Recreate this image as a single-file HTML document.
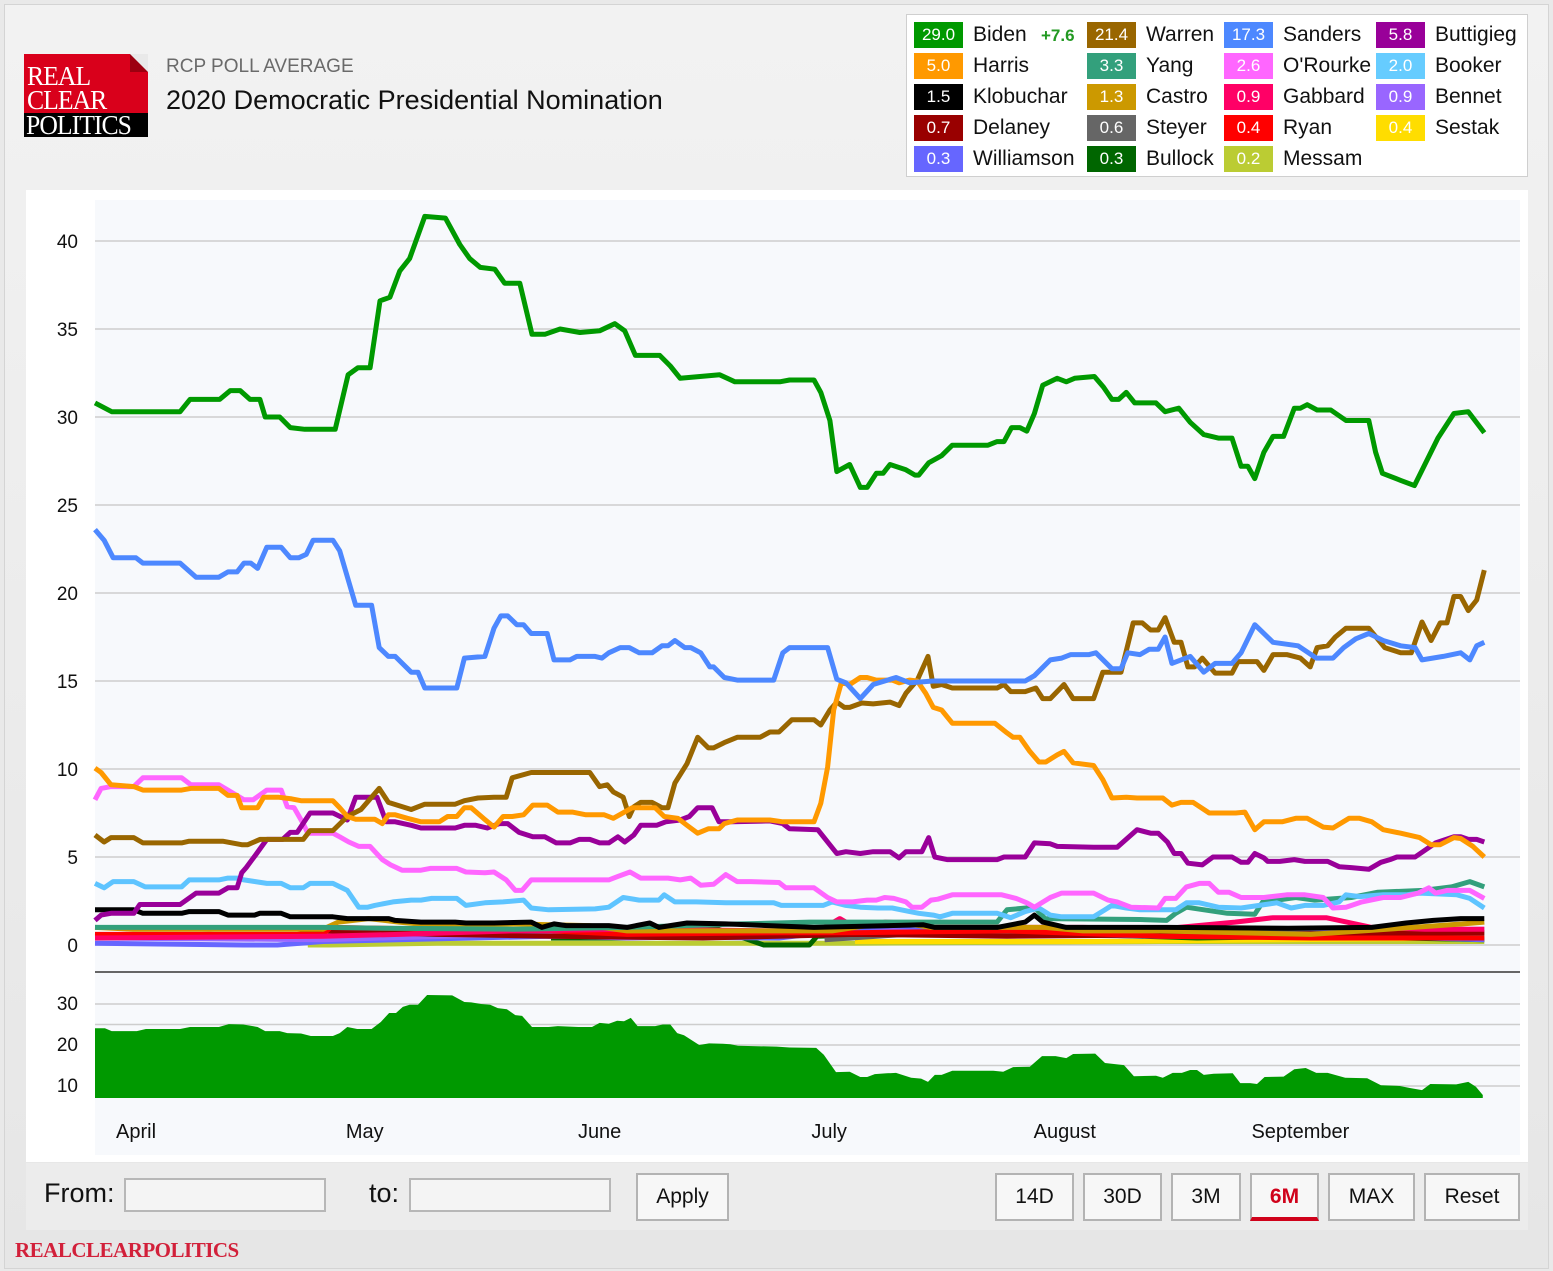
<!DOCTYPE html>
<html><head><meta charset="utf-8">
<style>
html,body{margin:0;padding:0;}
body{width:1553px;height:1271px;position:relative;overflow:hidden;background:#e9e9e9;font-family:"Liberation Sans",sans-serif;}
.abs{position:absolute;}
#frame{left:4px;top:4px;width:1543px;height:1263px;background:linear-gradient(#f2f2f2,#e6e6e6);border:1px solid #d4d4d4;}
#logo-red{left:24px;top:54px;width:124px;height:59px;background:#d9001b;}
#logo-ear{left:130px;top:54px;width:0;height:0;border-top:18px solid #e9e9e9;border-left:18px solid #9c0010;}
#logo-black{left:24px;top:113px;width:124px;height:24px;background:#000;}
.logo-t{color:#fff;font-family:"Liberation Serif",serif;font-size:27px;line-height:24px;letter-spacing:-1px;transform:scaleX(0.95);transform-origin:left;}
#legend{left:906px;top:14px;width:620px;height:161px;background:#fff;border:1px solid #cfcfcf;}
.sw{position:absolute;width:49px;height:26px;color:#fff;font-size:17px;line-height:26px;text-align:center;}
.nm{position:absolute;font-size:21px;color:#111;line-height:26px;}
#panel{left:26px;top:190px;width:1502px;height:972px;background:#fff;}
#controls{left:26px;top:1163px;width:1502px;height:67px;background:#ececec;}
.inp{position:absolute;background:#f4f4f4;border:2px solid #b7b7b7;height:30px;}
.btn{position:absolute;top:1173px;height:44px;border:2px solid #b3b3b3;background:#f7f7f7;font-size:21px;line-height:44px;text-align:center;color:#111;}
</style></head>
<body>
<div class="abs" id="frame"></div>

<div class="abs" id="logo-red"></div>
<div class="abs" id="logo-ear"></div>
<div class="abs" id="logo-black"></div>
<div class="abs logo-t" style="left:27px;top:64px;">REAL</div>
<div class="abs logo-t" style="left:27px;top:88px;">CLEAR</div>
<div class="abs logo-t" style="left:26px;top:113px;">POLITICS</div>

<div class="abs" style="left:166px;top:56px;font-size:19px;color:#6a6a6a;">RCP POLL AVERAGE</div>
<div class="abs" style="left:166px;top:85px;font-size:27px;color:#111;">2020 Democratic Presidential Nomination</div>

<div class="abs" id="legend"></div>

<div class="abs" id="panel"></div>
<svg class="abs" style="left:0;top:0" width="1553" height="1271" id="chart"></svg>

<div class="abs" id="controls"></div>
<div class="abs" style="left:44px;top:1178px;font-size:27px;color:#111;">From:</div>
<div class="inp" style="left:124px;top:1178px;width:198px;"></div>
<div class="abs" style="left:369px;top:1178px;font-size:27px;color:#111;">to:</div>
<div class="inp" style="left:409px;top:1178px;width:198px;"></div>
<div class="btn" style="left:636px;width:89px;">Apply</div>
<div class="btn" style="left:995px;width:75px;">14D</div>
<div class="btn" style="left:1083px;width:75px;">30D</div>
<div class="btn" style="left:1171px;width:66px;">3M</div>
<div class="btn" style="left:1250px;width:65px;color:#d0021b;font-weight:bold;border-bottom:4px solid #d0021b;height:42px;">6M</div>
<div class="btn" style="left:1328px;width:83px;">MAX</div>
<div class="btn" style="left:1424px;width:92px;">Reset</div>
<div class="abs" style="left:15px;top:1238px;font-family:'Liberation Serif',serif;font-weight:bold;font-size:21px;color:#d2203a;letter-spacing:-0.5px;">REALCLEARPOLITICS</div>

<script>
// ---- data (day 0 = Mar 27) ----
const monthNames = ["April","May","June","July","August","September"];
const monthDays = [5.4,35.5,66.4,96.6,127.6,158.6];
const yTicks = [0,5,10,15,20,25,30,35,40];
const navTicks = [10,20,30];
const navGrid = [10,15,20,25,30];

const biden = [[0,30.8],[2.2,30.3],[11.2,30.3],[12.5,31.0],[16.4,31.0],[17.8,31.5],[19.1,31.5],[20.4,31.0],[21.7,31.0],[22.4,30.0],[24.3,30.0],[25.7,29.4],[27.6,29.3],[31.6,29.3],[33.3,32.4],[34.6,32.8],[36.2,32.8],[37.5,36.6],[38.8,36.8],[40.1,38.3],[41.4,39.0],[43.4,41.4],[46.1,41.3],[48,39.8],[49.3,39.0],[50.7,38.5],[52.6,38.4],[53.9,37.6],[55.9,37.6],[57.5,34.7],[59.2,34.7],[61.2,35.0],[63.8,34.8],[66.4,34.9],[68.4,35.3],[69.7,34.9],[71.1,33.5],[74.3,33.5],[75.7,32.9],[77,32.2],[79.6,32.3],[82.2,32.4],[84.2,32.0],[90.1,32.0],[91.4,32.1],[94.6,32.1],[95.5,31.4],[96.7,29.8],[97.6,26.9],[99.3,27.3],[100.7,26.0],[101.6,26.0],[102.8,26.8],[103.7,26.8],[104.6,27.3],[106.7,27.0],[107.9,26.7],[108.4,26.7],[109.7,27.4],[111.4,27.8],[112.8,28.4],[117.5,28.4],[118.7,28.6],[119.6,28.6],[120.6,29.4],[121.7,29.4],[122.6,29.2],[123.6,30.2],[124.7,31.8],[126.6,32.2],[127.8,32.0],[128.9,32.2],[131.5,32.3],[132.7,31.7],[133.8,31.0],[134.7,31.0],[135.7,31.4],[136.8,30.8],[139.6,30.8],[140.8,30.3],[142.6,30.5],[144.1,29.7],[145.9,29.0],[147.8,28.8],[149.6,28.8],[150.8,27.2],[151.7,27.2],[152.6,26.5],[153.8,28.0],[155.0,28.9],[156.4,28.9],[157.8,30.5],[158.6,30.5],[159.5,30.7],[160.8,30.4],[162.6,30.4],[164.6,29.8],[167.6,29.8],[168.5,28.0],[169.4,26.8],[171.8,26.4],[173.6,26.1],[176.7,28.8],[178.8,30.2],[180.7,30.3],[182.8,29.1]];
const sanders = [[0,23.6],[1.2,23.0],[2.4,22.0],[5.4,22.0],[6.3,21.7],[11.2,21.7],[13.3,20.9],[16.3,20.9],[17.5,21.2],[18.7,21.2],[19.6,21.7],[20.5,21.7],[21.4,21.4],[22.6,22.6],[24.5,22.6],[25.7,22.0],[26.8,22.0],[27.8,22.2],[28.7,23.0],[31.3,23.0],[32.2,22.4],[34.3,19.3],[36.4,19.3],[37.4,16.9],[38.6,16.4],[39.5,16.4],[41.6,15.5],[42.5,15.5],[43.4,14.6],[47.6,14.6],[48.6,16.3],[51.3,16.4],[52.5,18.0],[53.4,18.7],[54.3,18.7],[55.5,18.2],[56.4,18.2],[57.4,17.7],[59.5,17.7],[60.4,16.2],[62.5,16.2],[63.4,16.4],[65.8,16.4],[66.7,16.3],[67.6,16.6],[69.1,16.9],[70.3,16.9],[71.6,16.6],[73.3,16.6],[74.6,17.0],[75.4,17.0],[76.3,17.3],[77.6,16.9],[78.4,16.9],[79.7,16.6],[80.9,15.8],[81.4,15.8],[82.8,15.2],[84.5,15.05],[89.3,15.05],[90.5,16.6],[91.4,16.9],[96.4,16.9],[97.6,15.1],[98.8,14.9],[100.7,14.0],[102.4,14.8],[105.4,15.2],[107.2,14.9],[110.3,15.0],[122.4,15.0],[123.6,15.3],[125.7,16.2],[127.2,16.3],[128.4,16.5],[130.8,16.5],[131.7,16.6],[133.8,15.7],[135,15.7],[135.9,16.6],[137.5,16.5],[138.7,16.8],[139.9,16.8],[140.8,17.5],[141.7,16.0],[144.1,16.4],[145.9,15.5],[147.4,16.0],[149.6,16.0],[150.8,16.6],[152.6,18.2],[155,17.2],[158.3,17.0],[160.7,16.3],[162.9,16.3],[164.3,16.9],[165.9,17.4],[167.6,17.7],[169.5,17.3],[171.8,17.0],[173.7,16.9],[174.6,16.2],[177.4,16.4],[179.7,16.6],[180.9,16.2],[181.8,17.0],[182.8,17.2]];
const warren = [[0,6.25],[1.2,5.85],[2.1,6.1],[5.1,6.1],[6.3,5.8],[11.4,5.8],[12.4,5.9],[16.8,5.9],[19.3,5.7],[20.1,5.7],[21.7,6.0],[27.4,6.0],[28.3,6.5],[31.3,6.5],[33.2,7.3],[35,7.7],[37.4,8.9],[38.6,8.1],[41.6,7.7],[43.4,8.0],[47.4,8.0],[48.6,8.2],[50.4,8.35],[52.5,8.4],[54.1,8.4],[54.9,9.5],[57.4,9.8],[65.1,9.8],[66.4,9.0],[67.4,9.1],[68.2,8.7],[69.5,8.4],[70.3,7.3],[70.9,7.85],[71.8,8.1],[73.3,8.1],[74.6,7.8],[75.4,7.8],[76.3,9.2],[77.9,10.3],[79.3,11.8],[80.7,11.2],[81.4,11.2],[82.8,11.5],[84.5,11.8],[87.5,11.8],[88.8,12.1],[90,12.1],[91.7,12.8],[94.6,12.8],[95.5,12.5],[96.7,13.35],[97.6,13.8],[98.6,13.5],[99.3,13.5],[100.9,13.75],[102.4,13.7],[104.6,13.8],[105.8,13.6],[106.7,14.3],[108.2,15.05],[109.6,16.4],[110.3,14.7],[111.4,14.8],[112.8,14.6],[118.7,14.6],[119.6,14.8],[120.5,14.4],[122.4,14.4],[123.8,14.6],[124.7,14.0],[125.7,14.0],[127.5,14.8],[128.7,14.0],[131.4,14.0],[132.6,15.5],[135,15.5],[136.6,18.3],[137.8,18.3],[138.9,17.9],[139.9,17.9],[140.8,18.6],[142,17.2],[142.9,17.2],[143.8,15.8],[144.7,15.8],[145.7,16.3],[147.4,15.45],[149.6,15.45],[150.4,16.1],[152.9,16.1],[153.8,15.6],[155,16.5],[156.8,16.5],[158.6,16.3],[159.9,15.8],[160.8,16.9],[162.2,17.0],[163.2,17.5],[164.6,18.0],[167.6,18.0],[169.7,16.9],[171.8,16.6],[173.2,16.6],[174.6,18.35],[175.8,17.3],[177,18.3],[177.9,18.3],[178.8,19.8],[179.7,19.8],[180.7,19.0],[181.8,19.6],[182.8,21.3]];
const harris = [[0,10.05],[0.8,9.8],[2.1,9.1],[5.1,9.0],[6.3,8.8],[11.4,8.8],[12.6,8.9],[16.3,8.9],[17.5,8.5],[18.7,8.5],[19.3,7.8],[21.4,7.8],[22.2,8.4],[24.1,8.4],[25.9,8.3],[27.1,8.2],[31.3,8.2],[32.2,7.8],[33.2,7.3],[34.3,7.15],[36.8,7.15],[37.8,6.9],[38.6,7.4],[39.5,7.4],[41.1,7.2],[42.9,7.0],[45.3,7.0],[46.4,7.3],[47.6,7.3],[48.6,7.8],[49.5,7.8],[51.1,7.2],[52.5,6.7],[53.7,7.3],[54.9,7.3],[56.4,7.4],[57.6,7.95],[59.5,7.95],[60.9,7.55],[62.8,7.55],[64.6,7.4],[67,7.4],[68.2,7.2],[70.7,7.8],[73.7,7.8],[74.9,7.3],[76.7,7.2],[77.9,6.8],[79.3,6.35],[80.7,6.6],[82.1,6.6],[82.8,6.9],[84.5,7.1],[88.8,7.1],[90.5,7.0],[94.6,7.0],[95.5,8.05],[96.4,10.1],[97.2,13.35],[98.2,14.9],[99.3,14.8],[100.7,15.2],[101.6,15.2],[102.8,15.05],[104.9,15.05],[105.8,14.9],[107.2,15.05],[108.2,15.0],[109.3,14.3],[110.3,13.5],[111.4,13.35],[112.8,12.6],[118.4,12.6],[120,12.05],[120.8,11.8],[121.7,11.8],[123,11.0],[124.2,10.4],[125.1,10.4],[126.6,10.8],[127.5,11.0],[128.7,10.35],[131.4,10.2],[132.6,9.4],[133.8,8.35],[135.7,8.4],[137.1,8.35],[140.5,8.35],[141.7,7.95],[142.9,8.1],[144.5,8.1],[146.6,7.5],[150.1,7.5],[151.3,7.55],[152.6,6.55],[153.8,7.0],[156.2,7.0],[158,7.2],[159.5,7.2],[161.6,6.7],[162.9,6.65],[165,7.2],[166.4,7.2],[168,7.0],[169.5,6.55],[171.8,6.35],[174.3,6.1],[175.8,5.7],[177,5.7],[178.8,6.1],[179.7,6.05],[181.3,5.6],[182.8,5.0]];
const buttigieg = [[0,1.4],[0.8,1.7],[2.1,1.8],[5.1,1.8],[5.9,2.3],[11.2,2.3],[13.3,2.95],[16.3,2.95],[17.5,3.25],[18.7,3.25],[19.3,4.1],[19.9,4.4],[21.1,5.1],[22.6,6.0],[24.7,6.0],[25.7,6.4],[26.6,6.4],[28.3,7.5],[31.3,7.5],[33.2,7.1],[34.3,8.4],[37.1,8.4],[38.3,7.0],[39.5,7.0],[41.6,6.8],[42.9,6.65],[47.4,6.65],[48.6,6.8],[50.1,6.8],[51.6,6.65],[53.2,6.9],[54.3,6.9],[55.8,6.4],[57.6,6.15],[59.2,6.15],[60.7,5.8],[62.5,5.8],[63.7,6.0],[65.1,6.0],[66.4,5.8],[67.6,5.8],[68.8,6.15],[69.7,5.85],[70.9,6.25],[71.8,6.8],[73.9,6.8],[75.1,7.0],[77,7.1],[78.2,7.3],[79.3,7.8],[81.2,7.8],[82.1,7.0],[83.9,7.0],[88.8,7.05],[90.5,6.9],[91.4,6.6],[95.1,6.55],[97.6,5.2],[98.8,5.3],[100.7,5.2],[102.4,5.3],[104.6,5.3],[105.8,4.95],[106.7,5.3],[108.8,5.3],[109.7,6.1],[110.5,5.0],[112.1,4.85],[118.7,4.85],[119.6,5.0],[122.4,5.0],[123.6,5.8],[125.7,5.75],[126.6,5.6],[131.4,5.55],[134.5,5.55],[137.1,6.55],[138.9,6.35],[139.9,6.35],[141.1,5.85],[142,5.2],[142.9,5.2],[143.8,4.65],[145.7,4.55],[147.1,5.0],[149.6,5.0],[150.8,4.7],[151.7,4.7],[152.6,5.2],[153.8,4.95],[154.3,4.75],[155.9,4.75],[157.8,4.85],[159.2,4.75],[162.2,4.75],[163.7,4.45],[165.3,4.4],[167.6,4.3],[169.2,4.7],[170.4,4.85],[171.3,5.0],[173.7,5.0],[176.4,5.8],[178.8,6.15],[179.7,6.15],[180.7,6.0],[181.8,6.0],[182.8,5.85]];
const orourke = [[0,8.25],[0.8,8.9],[2.1,9.0],[5.1,9.0],[6.3,9.5],[11.4,9.5],[12.6,9.1],[16.3,9.1],[17.5,8.8],[19.6,8.25],[20.8,8.25],[22.6,8.8],[24.5,8.8],[25.3,7.85],[26.2,7.8],[27.4,6.9],[28,6.35],[31.3,6.35],[32.2,6.15],[33.4,5.85],[34.7,5.6],[36.2,5.6],[37.8,4.85],[38.9,4.55],[40.4,4.25],[42.9,4.25],[44.1,4.35],[47.6,4.35],[48.8,4.15],[51.3,4.1],[52.5,4.15],[54.1,3.7],[55.3,3.1],[56.2,3.1],[57.4,3.7],[67.6,3.7],[68.8,3.9],[70.4,4.15],[71.8,3.8],[75.4,3.8],[77,3.7],[78.4,3.8],[79.7,3.4],[81.4,3.45],[83,4.0],[84.5,3.6],[86.3,3.6],[90,3.55],[90.9,3.25],[94.6,3.25],[96.4,2.7],[97.6,2.45],[99.7,2.45],[101.6,2.55],[102.8,2.55],[103.9,2.7],[105.1,2.65],[106.7,2.45],[107.5,2.15],[108.8,2.15],[110,2.55],[110.9,2.6],[112.8,2.85],[119.3,2.85],[121.2,2.65],[122.6,2.4],[123.6,2.15],[125.7,2.7],[127.2,2.95],[131.4,2.95],[133.3,2.55],[134.5,2.45],[136.3,2.15],[139.9,2.1],[140.8,2.65],[142.2,2.65],[143.6,3.3],[145.3,3.5],[146.6,3.5],[147.8,3.0],[149.2,3.0],[150.8,2.7],[153.8,2.7],[156.8,2.85],[159.2,2.85],[161.6,2.7],[162.9,2.1],[164.6,2.15],[166.7,2.45],[169.5,2.7],[171.8,2.7],[174.1,2.95],[175.5,3.25],[176.4,2.95],[177.9,3.1],[180.9,3.1],[182.8,2.65]];
const booker = [[0,3.5],[1.2,3.25],[2.4,3.6],[5.1,3.6],[6.6,3.3],[11.4,3.3],[12.4,3.7],[16.3,3.7],[17.5,3.8],[18.7,3.8],[19.6,3.7],[21.1,3.6],[22.6,3.5],[24.5,3.5],[25.7,3.25],[27.4,3.25],[28.3,3.5],[31.3,3.5],[33.2,3.1],[34.7,2.15],[35.9,2.15],[36.8,2.25],[39.2,2.45],[41.6,2.55],[42.9,2.55],[44.3,2.65],[47.6,2.65],[48.8,2.25],[51.3,2.4],[53.7,2.45],[56.4,2.55],[57.4,2.1],[59.7,2.0],[65.8,2.05],[67.6,2.15],[69.5,2.7],[71.6,2.55],[74.2,2.55],[74.9,2.85],[76.3,2.45],[79.1,2.45],[83,2.4],[89.3,2.4],[90.3,2.25],[95.8,2.25],[97,2.45],[98.8,2.25],[100.7,2.15],[103,2.1],[104.9,2.1],[107.2,1.9],[108.4,1.8],[110.3,1.7],[111.2,1.6],[112.8,1.8],[118.7,1.8],[120.5,1.55],[122.4,1.9],[124.2,2.1],[125.7,1.7],[127.2,1.6],[131.4,1.6],[132.9,2.0],[133.8,2.25],[135.7,2.1],[137.5,2.0],[142.2,2.0],[143.6,2.4],[145.3,2.4],[147.8,2.15],[150.8,2.1],[153.2,2.25],[155.5,2.4],[157.4,2.1],[159.2,2.25],[161.6,2.25],[163.7,2.45],[164.6,2.85],[166.4,2.75],[169.5,2.85],[172.5,2.85],[174.3,2.95],[179.2,2.85],[180.9,2.65],[182.8,2.1]];
const klobuchar = [[0,2.0],[5.1,2.0],[6.3,1.8],[11.4,1.8],[12.4,1.9],[16.3,1.9],[17.5,1.7],[21,1.7],[21.7,1.8],[24.5,1.8],[25.7,1.6],[31.3,1.6],[33.2,1.5],[38.6,1.5],[39.5,1.4],[42.9,1.3],[47.4,1.3],[48.8,1.25],[52.5,1.25],[57.4,1.3],[58.8,1.0],[60.4,1.2],[62,1.1],[67.6,1.1],[70,1.0],[73,1.25],[74.2,1.0],[77.9,1.25],[83,1.2],[94.6,1.0],[109,1.15],[110.5,1.0],[118.7,1.0],[122.4,1.3],[123.6,1.7],[124.7,1.3],[127.8,1.0],[141,1.0],[157,0.95],[168,1.0],[172.5,1.25],[176.1,1.4],[179.7,1.5],[182.8,1.5]];
const yang = [[0,1.0],[30,1.0],[38,0.95],[55,0.9],[70,1.0],[85,1.2],[94,1.3],[118.7,1.3],[120,2.0],[123.6,2.15],[125,1.5],[137.5,1.45],[141,1.4],[142.2,1.8],[143.6,2.15],[149,1.8],[152.6,1.75],[153.8,2.55],[155.5,2.55],[158,2.7],[160.5,2.55],[165.3,2.7],[168.8,3.0],[174.8,3.1],[178.5,3.3],[180.9,3.6],[182.8,3.3]];
const castro = [[0,1.0],[5,0.9],[30,0.9],[32,1.3],[36,1.5],[40,1.3],[45,1.1],[55,1.2],[65,1.1],[70,0.8],[97,0.8],[103,1.2],[107,1.2],[110,1.0],[125,1.0],[130,0.8],[140,0.8],[160,0.6],[170,0.9],[180,1.2],[182.8,1.3]];
const gabbard = [[0,0.4],[30,0.5],[40,0.6],[55,0.8],[70,0.9],[90,0.8],[96,1.0],[98,1.5],[100,1.0],[104,1.3],[108,1.2],[110,1.0],[130,1.0],[140,0.9],[150,1.3],[155,1.55],[162,1.55],[168,1.0],[175,0.9],[182.8,0.9]];
const delaney = [[0,0.5],[15,0.6],[25,0.5],[30,0.8],[45,0.6],[60,0.5],[80,0.4],[100,0.6],[120,0.5],[150,0.6],[182.8,0.7]];
const ryan = [[0,0.6],[30,0.6],[31,1.0],[45,0.9],[60,0.8],[70,0.6],[90,0.7],[100,0.7],[120,0.8],[140,0.5],[160,0.4],[182.8,0.4]];
const steyer = [[96,0.3],[110,0.7],[130,0.6],[150,0.7],[182.8,0.6]];
const bennet = [[0,0.4],[30,0.3],[55,0.6],[70,0.4],[97,0.6],[105,0.8],[115,0.6],[140,0.8],[160,0.8],[182.8,0.9]];
const williamson = [[0,0.1],[19.5,0.0],[24,0.0],[30,0.2],[60,0.5],[90,0.4],[96,0.7],[105,0.9],[120,0.6],[140,0.5],[160,0.6],[182.8,0.3]];
const bullock = [[60,0.4],[70,0.4],[75,0.8],[82,0.9],[88,0.0],[94,0.0],[95,0.5],[110,0.7],[130,0.6],[145,0.4],[160,0.5],[182.8,0.3]];
const sestak = [[100,0.2],[130,0.2],[182.8,0.4]];
const messam = [[28,0.0],[31,0.0],[45,0.1],[60,0.1],[100,0.1],[140,0.2],[182.8,0.2]];
const navigator = [[0,24.1],[1.3,24.1],[2.2,23.4],[5.5,23.4],[6.7,23.9],[11.2,23.9],[12.5,24.4],[16.3,24.4],[17.6,25.1],[19.5,25.0],[21.4,24.4],[22.4,23.4],[24.3,23.4],[25.3,22.9],[27.1,22.8],[28.4,22.2],[31.3,22.2],[32.2,22.9],[33.2,24.4],[34.5,23.9],[36.4,23.9],[37.6,25.6],[38.7,27.8],[39.6,27.8],[40.5,29.3],[41.4,29.8],[42.5,29.8],[43.7,32.2],[47,32.1],[48.6,30.5],[49.5,30.4],[50.8,30.0],[52,29.8],[53,29.0],[54.2,28.7],[55.3,27.3],[56.2,27.1],[57.5,24.4],[59.7,24.4],[60.9,24.6],[63.6,24.4],[65.4,24.4],[66.4,25.4],[67.6,25.2],[68.7,25.9],[69.6,25.8],[70.5,26.6],[71.4,24.6],[73.7,24.6],[74.7,25.0],[75.7,25.0],[76.6,22.9],[77.5,22.4],[79.5,20.0],[80.8,20.4],[82.6,20.3],[83.6,20.2],[84.6,19.8],[89.7,19.6],[91.4,19.4],[94.9,19.3],[95.9,17.6],[97.5,13.4],[99.3,13.5],[100.7,12.2],[101.6,12.2],[102.6,12.9],[104.2,13.1],[105.4,13.2],[107.4,12.0],[108.7,11.8],[109.6,11.0],[110.5,12.7],[111.4,12.7],[112.8,13.7],[118.2,13.7],[119.5,13.5],[120.8,14.6],[123,14.7],[124.6,17.3],[126.4,17.3],[127.8,16.8],[128.7,17.8],[131.6,17.9],[132.9,15.6],[135.4,15.1],[136.7,12.4],[139.6,12.5],[140.5,12.0],[141.8,13.2],[143,13.2],[144.1,13.9],[145,13.9],[145.9,12.7],[147.2,13.0],[149.7,13.1],[150.7,10.7],[152,10.7],[152.9,10.5],[153.9,12.2],[156.4,12.3],[157.8,14.1],[159.3,14.4],[160.7,13.2],[162.2,13.2],[164.5,12.0],[167.4,11.9],[169.2,10.2],[171.7,10.0],[173,9.5],[174.6,9.0],[175.7,10.5],[179.1,10.4],[180.7,11.0],[181.7,9.8],[182.6,7.8]];

const legendNames = ["Biden","Warren","Sanders","Buttigieg","Harris","Yang","O'Rourke","Booker","Klobuchar","Castro","Gabbard","Bennet","Delaney","Steyer","Ryan","Sestak","Williamson","Bullock","Messam"];
const legendValues = ["29.0","21.4","17.3","5.8","5.0","3.3","2.6","2.0","1.5","1.3","0.9","0.9","0.7","0.6","0.4","0.4","0.3","0.3","0.2"];
const legendColors = ["#009900","#996600","#4d88ff","#990099","#ff9900","#33a07c","#ff66ff","#66ccff","#000000","#cc9900","#ff0066","#9966ff","#990000","#666666","#ff0000","#ffdd00","#6666ff","#006600","#bbcc33"];

// ---- scales ----
const X0 = 95, PX_PER_DAY = 7.6;
function xs(d){ return X0 + PX_PER_DAY*d; }
function ys(v){ return 945 - 17.6*v; }
function yn(v){ return 1127 - 4.1*v; }

const NS = "http://www.w3.org/2000/svg";
const svg = document.getElementById('chart');
function mk(tag, attrs){ const e=document.createElementNS(NS,tag); for(const k in attrs) e.setAttribute(k,attrs[k]); svg.appendChild(e); return e; }

const bg = mk('rect',{x:95,y:200,width:1425,height:955,fill:'#f7f9fc'});



yTicks.forEach(t=>{
  const g = mk('line',{x1:95,x2:1520,y1:ys(t),y2:ys(t),stroke:'#cdcdcd','stroke-width':1.5});
  
  
  const tx = mk('text',{x:78,y:ys(t)+7,'text-anchor':'end','font-size':19,fill:'#111','font-family':'Liberation Sans, sans-serif'});
  tx.textContent = t;
  
  
});
const sep = mk('line',{x1:95,x2:1520,y1:972,y2:972,stroke:'#666','stroke-width':2});


navGrid.forEach(t=>{
  const g = mk('line',{x1:95,x2:1520,y1:yn(t),y2:yn(t),stroke:'#cdcdcd','stroke-width':1.5});
  
  
});
navTicks.forEach(t=>{
  const tx = mk('text',{x:78,y:yn(t)+6,'text-anchor':'end','font-size':19,fill:'#111','font-family':'Liberation Sans, sans-serif'});
  tx.textContent = t;
  
  
});
monthNames.forEach((m,i)=>{
  const tx = mk('text',{x:xs(monthDays[i]),y:1138,'text-anchor':'middle','font-size':20,fill:'#111','font-family':'Liberation Sans, sans-serif'});
  tx.textContent = m;
  
  
});

(function(){
  const base = 1098;
  let d = 'M'+xs(navigator[0][0])+','+base;
  navigator.forEach(p=>{ d += ' L'+xs(p[0]).toFixed(1)+','+Math.min(base,yn(p[1])).toFixed(1); });
  d += ' L'+xs(navigator[navigator.length-1][0])+','+base+' Z';
  const a = mk('path',{d:d,fill:'#009900'});
  
  
})();

const seriesDraw = [
  ['messam',messam,'#bbcc33'],['sestak',sestak,'#ffdd00'],['bullock',bullock,'#006600'],['williamson',williamson,'#6666ff'],
  ['bennet',bennet,'#9966ff'],['steyer',steyer,'#666666'],['delaney',delaney,'#990000'],['ryan',ryan,'#ff0000'],
  ['gabbard',gabbard,'#ff0066'],['castro',castro,'#cc9900'],['yang',yang,'#33a07c'],['klobuchar',klobuchar,'#000000'],
  ['booker',booker,'#5ec4ff'],['orourke',orourke,'#ff66ff'],['buttigieg',buttigieg,'#990099'],['warren',warren,'#996600'],
  ['harris',harris,'#ff9900'],['sanders',sanders,'#4d88ff'],['biden',biden,'#009900']
];
seriesDraw.forEach(s=>{
  const pts = s[1].map(p=>xs(p[0]).toFixed(1)+','+ys(p[1]).toFixed(1)).join(' ');
  const pl = mk('polyline',{points:pts,fill:'none',stroke:s[2],'stroke-width':5,'stroke-linejoin':'round','stroke-linecap':'butt'});
  
  
});

const leg = document.getElementById('legend');
const colX = [7,180,317,469], nameX = [66,239,376,528];
legendNames.forEach((n,i)=>{
  const col = i%4, row = Math.floor(i/4);
  const sw = document.createElement('div');
  sw.className='sw';
  sw.style.left = colX[col]+'px'; sw.style.top = (7+row*31)+'px';
  sw.style.background = legendColors[i];
  sw.textContent = legendValues[i];
  
  
  leg.appendChild(sw);
  const nm = document.createElement('div');
  nm.className='nm';
  nm.style.left = nameX[col]+'px'; nm.style.top = (7+row*31)+'px';
  nm.textContent = n;
  
  
  leg.appendChild(nm);
});
const spread = document.createElement('div');
spread.className='nm';
spread.style.left='134px'; spread.style.top='8px'; spread.style.fontSize='17px'; spread.style.fontWeight='bold'; spread.style.color='#229922';
spread.textContent='+7.6';


leg.appendChild(spread);
</script>
</body></html>
